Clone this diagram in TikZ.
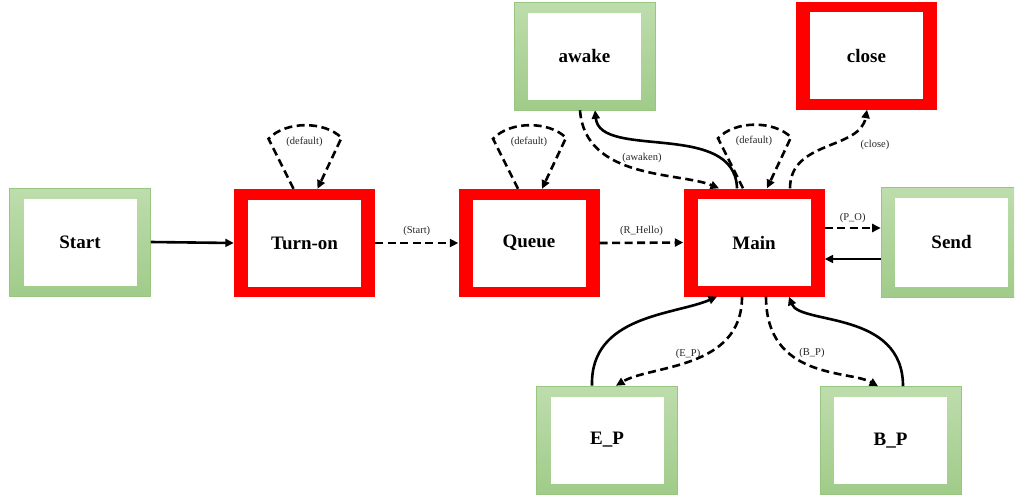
\documentclass[tikz,border=0pt]{standalone}
\usepackage{fontspec}
\setmainfont{Liberation Serif}
\usetikzlibrary{arrows.meta,calc}

\definecolor{boxred}{RGB}{255,0,0}
\definecolor{greentop}{RGB}{190,221,173}
\definecolor{greenbot}{RGB}{160,203,137}
\definecolor{greenedge}{RGB}{152,197,127}

\tikzset{
  state/.style={rectangle, minimum width=141pt, minimum height=108pt, inner sep=0pt,
    font=\fontsize{19}{22}\selectfont\bfseries,
    path picture={\fill[white]
      ([xshift=14pt,yshift=10.5pt]path picture bounding box.south west) rectangle
      ([xshift=-14pt,yshift=-10.5pt]path picture bounding box.north east);}},
  redstate/.style={state, fill=boxred},
  greenstate/.style={state, top color=greentop, bottom color=greenbot, draw=greenedge, line width=0.6pt},
  conn/.style={line width=2.6pt, -{Triangle[length=8.5pt,width=8pt]}},
  dconn/.style={conn, dash pattern=on 8pt off 4.5pt},
  lbl/.style={font=\fontsize{10.5}{12}\selectfont, text=black!85, inner sep=1pt}
}

% dashed "(default)" self-transition drawn on top of a state
\newcommand{\selfloop}[2]{%
  \draw[dconn] ($(#1.north)+(-11,0)$) -- ($(#1.north)+(-36,-50)$)
     .. controls ($(#1.north)+(-19,-68)$) and ($(#1.north)+(20,-68)$) .. ($(#1.north)+(37,-51)$)
     -- ($(#1.north)+(13,0)$);
  \node[lbl] (#2) at ($(#1.north)+(0,-47)$) {(default)};
}

\begin{document}
\begin{tikzpicture}[x=1pt, y=-1pt]
\useasboundingbox (0,0) rectangle (1016,496);
\begin{scope}
\clip (0,0) rectangle (1014,496);

% states
\node[greenstate] (start) at (80,242) {Start};
\node[redstate]   (turnon) at (304.5,243) {Turn-on};
\node[redstate]   (queue) at (529,243) {Queue};
\node[redstate]   (main) at (754,242.5) {Main};
\node[greenstate, minimum height=110pt] (send) at (951.5,242) {Send};
\node[greenstate] (awake) at (584.5,56) {awake};
\node[redstate]   (close) at (866.5,55.5) {close};
\node[greenstate] (ep) at (607,440) {E\_P};
\node[greenstate] (bp) at (890.5,440.5) {B\_P};

% main chain
\draw[conn] (start.east) -- (turnon.west);
\draw[dconn] (turnon.east) -- node[lbl, above=5pt] (lstart) {(Start)} (queue.west);
\draw[dconn] (queue.east) -- node[lbl, above=5pt] (lhello) {(R\_Hello)} (main.west);

% Main <-> Send
\draw[dconn] ([yshift=14.5pt]main.east) -- node[lbl, above=3pt] (lpo) {(P\_O)} ([yshift=14pt]send.west);
\draw[conn] ([yshift=-17pt]send.west) -- ([yshift=-16.5pt]main.east);

% self-transitions
\selfloop{turnon}{ldefa}
\selfloop{queue}{ldefb}
\selfloop{main}{ldefc}

% Main <-> awake
\draw[conn] ($(main.north)+(-17,0)$) .. controls (735,120) and (600,160) .. ($(awake.south)+(10.5,0)$);
\draw[dconn] ($(awake.south)+(-4.5,0)$) .. controls (585,180) and (680,172) .. ($(main.north)+(-35,0)$);
\node[lbl] (lawaken) at (642,158) {(awaken)};

% Main -> close
\draw[dconn] ($(main.north)+(36,0)$) .. controls (790,140) and (860,150) .. ($(close.south)+(0.5,0)$);
\node[lbl] (lclose) at (875,145) {(close)};

% Main <-> E_P
\draw[conn] ($(ep.north)+(-15,0)$) .. controls (590,315) and (675,315) .. ($(main.south)+(-37,0)$);
\draw[dconn] ($(main.south)+(-12,0)$) .. controls (742,370) and (650,365) .. ($(ep.north)+(9,0)$);
\node[lbl] (lep) at (688,354) {(E\_P)};

% Main <-> B_P
\draw[dconn] ($(main.south)+(12,0)$) .. controls (766,380) and (850,370) .. ($(bp.north)+(-12.5,0)$);
\draw[conn] ($(bp.north)+(12.5,0)$) .. controls (903,310) and (800,325) .. ($(main.south)+(35,0)$);
\node[lbl] (lbp) at (812,353) {(B\_P)};

\end{scope}
\end{tikzpicture}
\end{document}
